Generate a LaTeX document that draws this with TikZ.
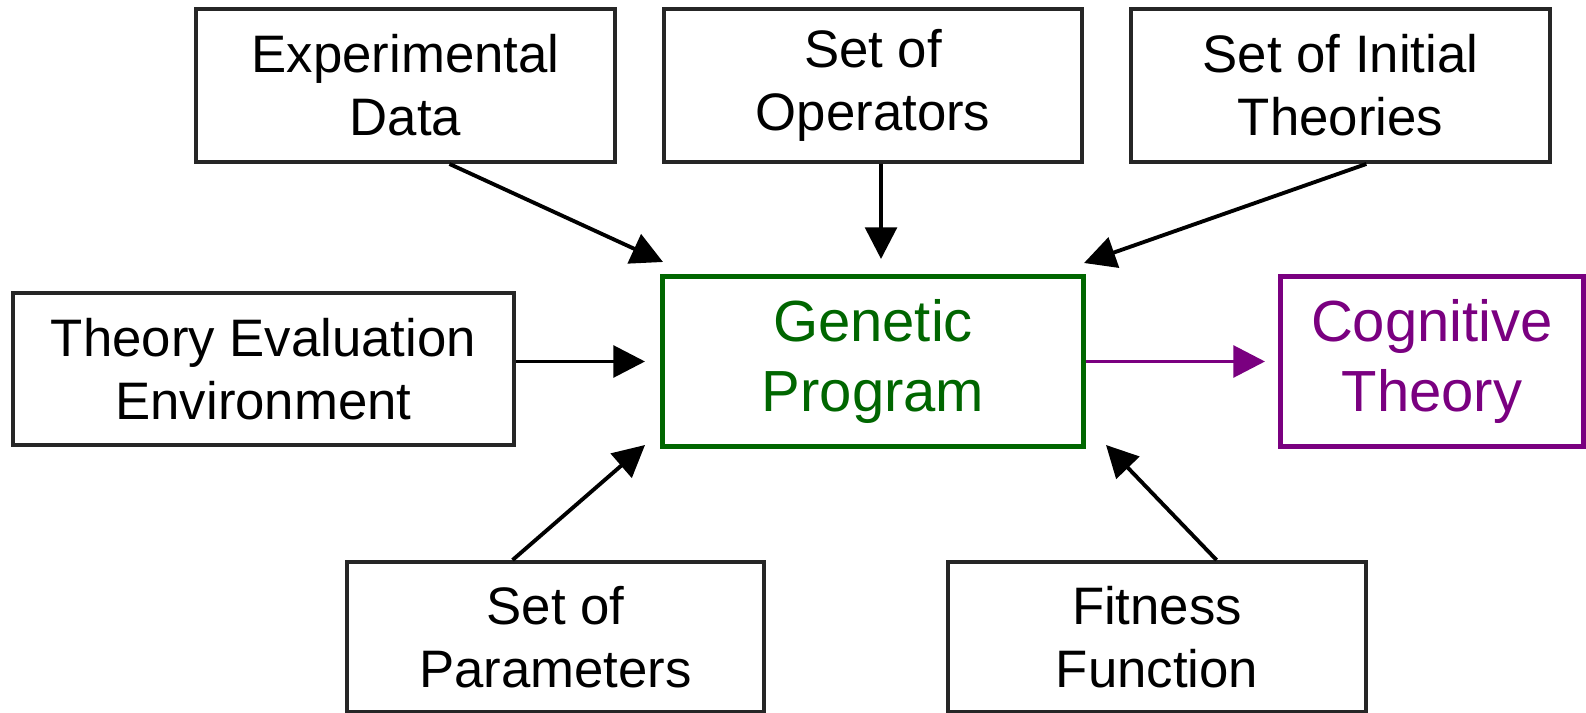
\documentclass[tikz,border=0pt]{standalone}
\usepackage{fontspec}
\setmainfont{Liberation Sans}
\usetikzlibrary{arrows.meta,calc}
\definecolor{gpgreen}{RGB}{0,102,0}
\definecolor{ctpurple}{RGB}{122,0,128}
\tikzset{
  box/.style={draw=black!85, line width=1.1pt, align=center, inner sep=0pt,
    font=\fontsize{15}{18}\selectfont, text=black},
  bigbox/.style={draw, line width=1.4pt, align=center, inner sep=0pt,
    font=\fontsize{16.5}{20}\selectfont},
  arr/.style={line width=1.1pt, -{Triangle[length=9pt,width=9pt]}},
}
\begin{document}
\begin{tikzpicture}[x=0.01cm,y=-0.01cm]
\useasboundingbox (0,0) rectangle (1586,713);
% input boxes
\node[box, minimum width=4.19cm, minimum height=1.53cm] (ed) at (405.5,85.5) {Experimental\\Data};
\node[box, minimum width=4.18cm, minimum height=1.53cm] (so) at (873,85.5) {Set of\\Operators};
\node[box, minimum width=4.19cm, minimum height=1.53cm] (sit) at (1340.5,85.5) {Set of Initial\\Theories};
\node[box, minimum width=5.01cm, minimum height=1.52cm] (tee) at (263.5,369) {Theory Evaluation\\Environment};
\node[box, minimum width=4.17cm, minimum height=1.50cm] (sp) at (555.5,637) {Set of\\Parameters};
\node[box, minimum width=4.18cm, minimum height=1.50cm] (ff) at (1157,637) {Fitness\\Function};
% central program and its output
\node[bigbox, draw=gpgreen, text=gpgreen, minimum width=4.20cm, minimum height=1.69cm] (gp) at (873,361.5) {Genetic\\Program};
\node[bigbox, draw=ctpurple, text=ctpurple, minimum width=3.02cm, minimum height=1.69cm] (ct) at (1432,361.5) {Cognitive\\Theory};
% arrow tips in front of the program box
\coordinate (t1) at (663,262);
\coordinate (t2) at (881,259);
\coordinate (t3) at (1084,263);
\coordinate (t4) at (645,361.5);
\coordinate (t5) at (645,445);
\coordinate (t6) at (1106,445);
\coordinate (t7) at (1265,361.5);
% connectors
\draw[arr] ($(ed.south west)!0.604!(ed.south east)$) -- (t1);
\draw[arr] ($(so.south west)!0.519!(so.south east)$) -- (t2);
\draw[arr] ($(sit.south west)!0.561!(sit.south east)$) -- (t3);
\draw[arr] (tee.east |- gp.west) -- (t4);
\draw[arr] ($(sp.north west)!0.398!(sp.north east)$) -- (t5);
\draw[arr] ($(ff.north west)!0.641!(ff.north east)$) -- (t6);
\draw[arr, draw=ctpurple, fill=ctpurple] (gp.east) -- (t7);
\end{tikzpicture}
\end{document}
